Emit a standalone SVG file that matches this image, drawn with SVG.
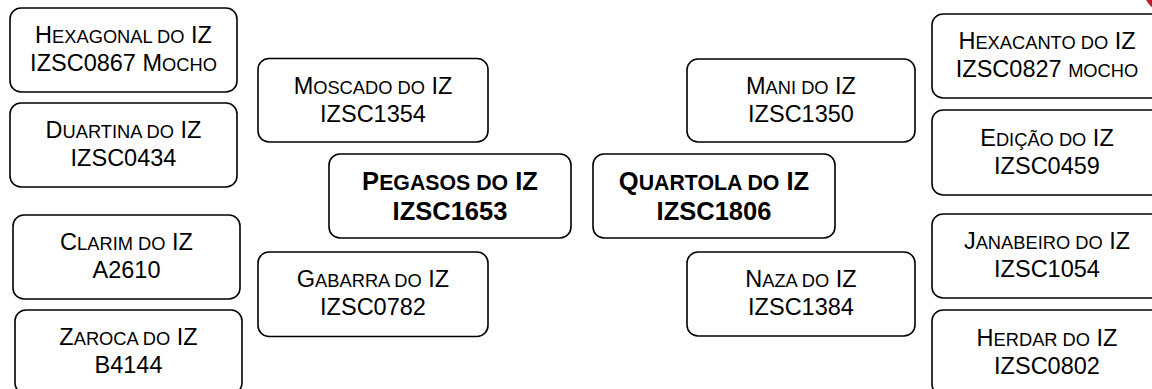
<svg xmlns="http://www.w3.org/2000/svg" width="1152" height="389" viewBox="0 0 1152 389">
<style>
.box{fill:#fff;stroke:#000;stroke-width:1.6}
.t{font-family:"Liberation Sans",Arial,sans-serif;font-size:23.5px;fill:#000;text-anchor:middle}
.s{font-size:18.3px}
.b{font-weight:bold;font-size:25.5px}
.b .s{font-size:21.3px}
</style>
<rect width="1152" height="389" fill="#fff"/>
<circle cx="1168" cy="-12" r="25" fill="#b3222c"/>
<g id="connectors"/>
<g id="hexagonal">
<rect class="box" x="10" y="8" width="227" height="84" rx="11"/>
<text class="t" x="123.5" y="43">H<tspan class="s">EXAGONAL DO</tspan> IZ</text>
<text class="t" x="123.5" y="71">IZSC0867 M<tspan class="s">OCHO</tspan></text>
</g>
<g id="duartina">
<rect class="box" x="10" y="103" width="227" height="84" rx="11"/>
<text class="t" x="123.5" y="138">D<tspan class="s">UARTINA DO</tspan> IZ</text>
<text class="t" x="123.5" y="166">IZSC0434</text>
</g>
<g id="clarim">
<rect class="box" x="13" y="215" width="227" height="84" rx="11"/>
<text class="t" x="126.5" y="250">C<tspan class="s">LARIM DO</tspan> IZ</text>
<text class="t" x="126.5" y="278">A2610</text>
</g>
<g id="zaroca">
<rect class="box" x="15" y="310" width="227" height="84" rx="11"/>
<text class="t" x="128.5" y="345">Z<tspan class="s">AROCA DO</tspan> IZ</text>
<text class="t" x="128.5" y="373">B4144</text>
</g>
<g id="moscado">
<rect class="box" x="258" y="58.5" width="230" height="83.5" rx="11"/>
<text class="t" x="373" y="93.5">M<tspan class="s">OSCADO DO</tspan> IZ</text>
<text class="t" x="373" y="121.5">IZSC1354</text>
</g>
<g id="gabarra">
<rect class="box" x="258" y="252" width="230" height="84.5" rx="11"/>
<text class="t" x="373" y="287">G<tspan class="s">ABARRA DO</tspan> IZ</text>
<text class="t" x="373" y="315">IZSC0782</text>
</g>
<g id="pegasos">
<rect class="box" x="329" y="154" width="242" height="84" rx="11"/>
<text class="t b" x="450" y="190">P<tspan class="s">EGASOS DO</tspan> IZ</text>
<text class="t b" x="450" y="220">IZSC1653</text>
</g>
<g id="quartola">
<rect class="box" x="593" y="154" width="242" height="84" rx="11"/>
<text class="t b" x="714" y="190">Q<tspan class="s">UARTOLA DO</tspan> IZ</text>
<text class="t b" x="714" y="220">IZSC1806</text>
</g>
<g id="mani">
<rect class="box" x="687" y="59" width="228" height="83" rx="11"/>
<text class="t" x="801" y="93.5">M<tspan class="s">ANI DO</tspan> IZ</text>
<text class="t" x="801" y="121.5">IZSC1350</text>
</g>
<g id="naza">
<rect class="box" x="687" y="252" width="228" height="84" rx="11"/>
<text class="t" x="801" y="287">N<tspan class="s">AZA DO</tspan> IZ</text>
<text class="t" x="801" y="315">IZSC1384</text>
</g>
<g id="hexacanto">
<rect class="box" x="932" y="14" width="230" height="84" rx="11"/>
<text class="t" x="1047" y="49">H<tspan class="s">EXACANTO DO</tspan> IZ</text>
<text class="t" x="1047" y="77">IZSC0827 <tspan class="s">MOCHO</tspan></text>
</g>
<g id="edicao">
<rect class="box" x="932" y="110" width="230" height="85" rx="11"/>
<text class="t" x="1047" y="145.5">E<tspan class="s">DIÇÃO DO</tspan> IZ</text>
<text class="t" x="1047" y="173.5">IZSC0459</text>
</g>
<g id="janabeiro">
<rect class="box" x="932" y="214" width="230" height="84" rx="11"/>
<text class="t" x="1047" y="249">J<tspan class="s">ANABEIRO DO</tspan> IZ</text>
<text class="t" x="1047" y="277">IZSC1054</text>
</g>
<g id="herdar">
<rect class="box" x="932" y="310" width="230" height="85" rx="11"/>
<text class="t" x="1047" y="345.5">H<tspan class="s">ERDAR DO</tspan> IZ</text>
<text class="t" x="1047" y="373.5">IZSC0802</text>
</g>
</svg>
